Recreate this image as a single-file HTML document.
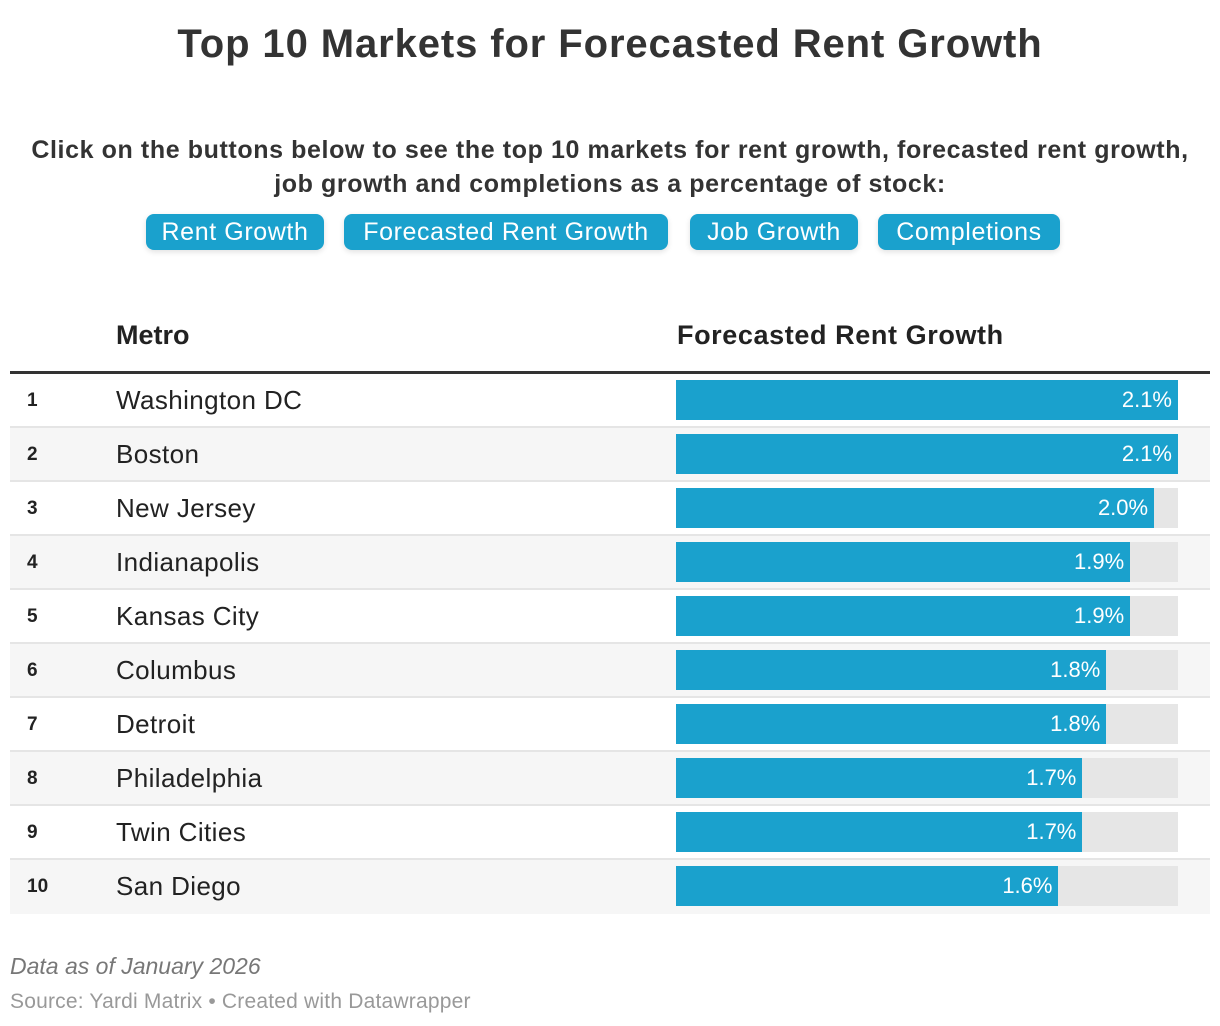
<!DOCTYPE html>
<html><head><meta charset="utf-8"><style>
*{margin:0;padding:0;box-sizing:border-box}
body{width:1220px;height:1026px;background:#fff;font-family:"Liberation Sans",sans-serif;color:#333;position:relative;overflow:hidden}
.abs{position:absolute;white-space:nowrap}
h1{position:absolute;top:22px;left:0;width:1220px;text-align:center;font-size:40px;font-weight:bold;color:#333;letter-spacing:0.9px}
.sub{position:absolute;left:0;width:1220px;text-align:center;font-size:25px;font-weight:bold;color:#333;letter-spacing:0.6px}
.btn{position:absolute;top:214px;height:36px;background:#1aa1cd;color:#fff;border-radius:8px;font-size:25px;letter-spacing:0.6px;line-height:36px;text-align:center;box-shadow:0 2px 6px rgba(0,0,0,0.12)}
.row{position:absolute;left:10px;width:1200px;height:54px}
.num{position:absolute;left:17px;font-size:19px;font-weight:bold;color:#222;top:16px}
.name{position:absolute;left:106px;font-size:26px;letter-spacing:0.4px;color:#222;top:11px}
.track{position:absolute;left:666px;width:502px;height:40px;top:6px;background:#e6e6e6}
.bar{position:absolute;left:0;top:0;height:40px;background:#1aa1cd}
.val{position:absolute;right:6px;top:7px;color:#fff;font-size:22px}
</style></head><body>
<h1>Top 10 Markets for Forecasted Rent Growth</h1>
<div class="sub" style="top:136px">Click on the buttons below to see the top 10 markets for rent growth, forecasted rent growth,</div>
<div class="sub" style="top:170px">job growth and completions as a percentage of stock:</div>
<div class="btn" style="left:146px;width:178px">Rent Growth</div>
<div class="btn" style="left:344px;width:324px">Forecasted Rent Growth</div>
<div class="btn" style="left:690px;width:168px">Job Growth</div>
<div class="btn" style="left:878px;width:182px">Completions</div>
<div class="abs" style="left:116px;top:320px;font-size:27px;font-weight:bold;color:#222">Metro</div>
<div class="abs" style="left:677px;top:320px;font-size:27px;letter-spacing:0.6px;font-weight:bold;color:#222">Forecasted Rent Growth</div>
<div class="abs" style="left:10px;top:371px;width:1200px;height:3px;background:#333"></div>
<div id="rows"></div>
<div class="abs" style="left:10px;top:953px;font-size:23px;font-style:italic;color:#777">Data as of January 2026</div>
<div class="abs" style="left:10px;top:990px;font-size:21px;letter-spacing:0.2px;color:#999">Source: Yardi Matrix • Created with Datawrapper</div>
<script>
const metros=["Washington DC","Boston","New Jersey","Indianapolis","Kansas City","Columbus","Detroit","Philadelphia","Twin Cities","San Diego"];
const values=[2.1,2.1,2.0,1.9,1.9,1.8,1.8,1.7,1.7,1.6];
const maxVal=2.1, trackW=502;
const x=v=>v/maxVal*trackW;
const host=document.getElementById('rows');
metros.forEach((m,i)=>{
  const r=document.createElement('div');
  
  
  r.className='row';
  r.style.top=(374+i*54)+'px';
  r.style.background=i%2?'#f6f6f6':'#fff';
  if(i<metros.length-1) r.style.borderBottom='2px solid #e5e5e5';
  r.innerHTML='<div class="num">'+(i+1)+'</div><div class="name">'+m+'</div>';
  const t=document.createElement('div');t.className='track';
  
  
  const b=document.createElement('div');b.className='bar';
  
  
  b.style.width=x(values[i])+'px';
  const v=document.createElement('div');v.className='val';v.textContent=values[i].toFixed(1)+'%';
  
  
  b.appendChild(v);t.appendChild(b);r.appendChild(t);host.appendChild(r);
});
</script>
</body></html>
